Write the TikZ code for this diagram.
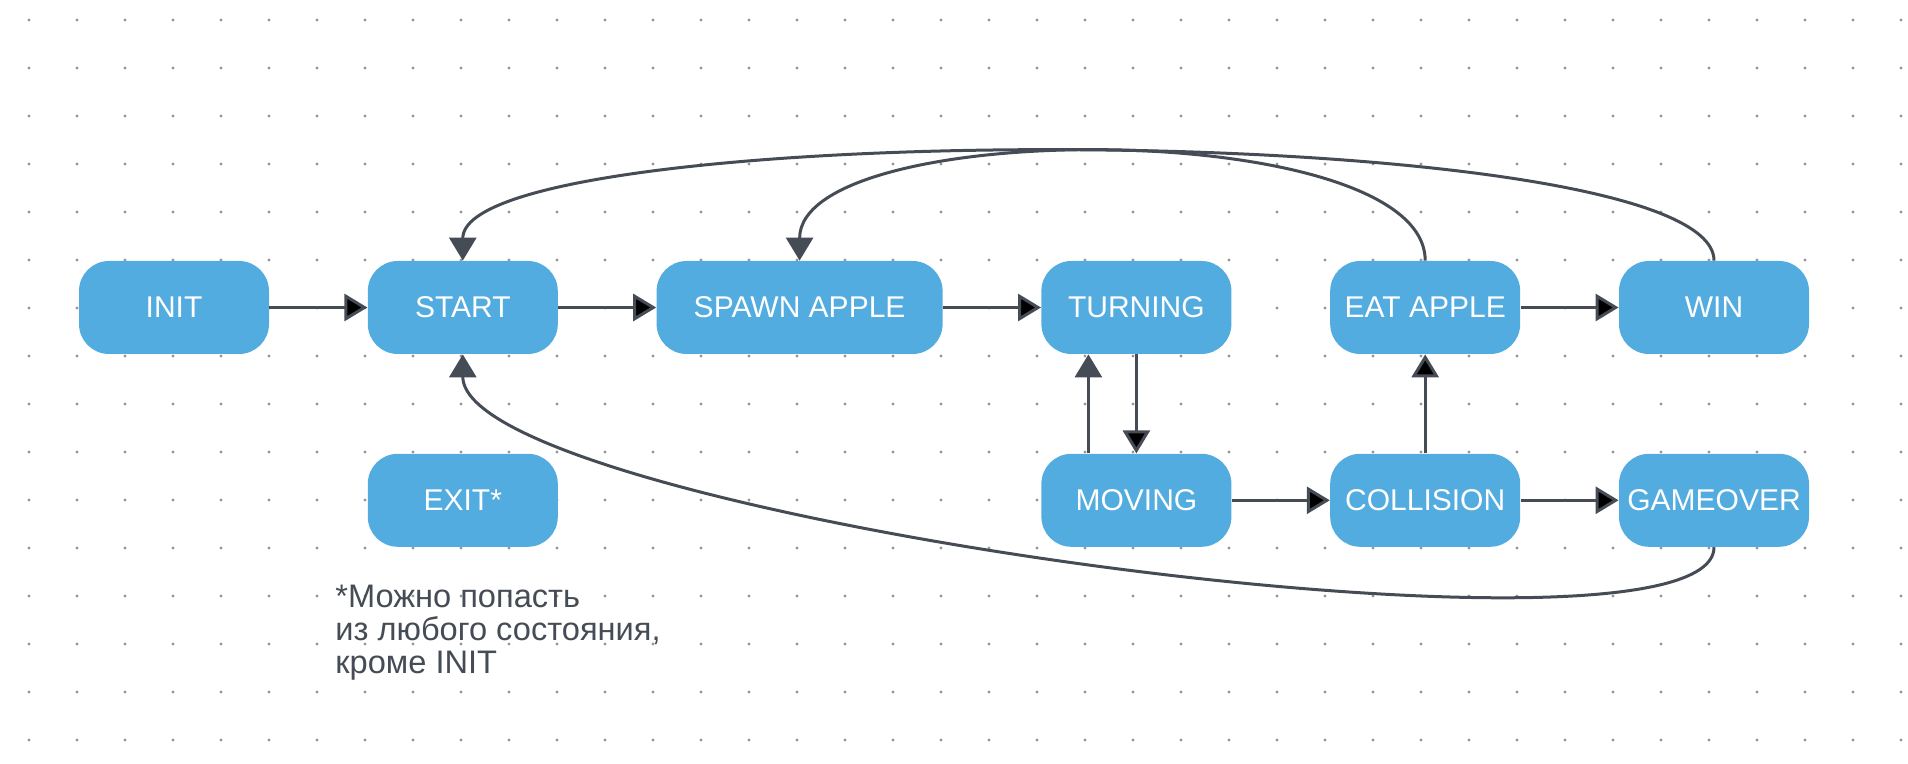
\documentclass[tikz,border=0pt]{standalone}
\usepackage{fontspec}
\setmainfont{Liberation Sans}
\usetikzlibrary{arrows.meta, positioning}

\definecolor{boxblue}{RGB}{82,172,223}
\definecolor{linegray}{RGB}{70,76,85}
\definecolor{dotgray}{RGB}{150,150,156}

\begin{document}
\begin{tikzpicture}[x=0.5pt, y=-0.5pt,
	node distance=49.5pt and 49pt,
	state/.style={fill=boxblue, text=white, rounded corners=15pt, minimum width=95pt, minimum height=46.5pt, inner sep=0pt, font=\fontsize{15pt}{18pt}\selectfont},
	link/.style={draw=linegray, line width=1.5pt, -{Triangle[length=11.5pt, width=13.5pt]}}
]

\useasboundingbox (0,0) rectangle (1908,764);

% dotted background
\foreach \i in {0,...,39}
	\foreach \j in {0,...,15}
		\fill [dotgray] (29+48*\i, 20+48*\j) circle (0.8pt);

\node [state] (1) at (174,307.5) {INIT};
\node [state, right=of 1] (2) {START};
\node [state, right=of 2, minimum width=143pt] (3) {SPAWN APPLE};
\node [state, right=of 3] (4) {TURNING};
\node [state, right=of 4] (5) {EAT APPLE};
\node [state, right=of 5] (6) {WIN};

\node [state, below=of 2] (7) {EXIT*};
\node [state, below=of 4] (8) {MOVING};
\node [state, below=of 5] (9) {COLLISION};
\node [state, below=of 6] (10) {GAMEOVER};

\node [anchor=north west, align=left, inner sep=0pt, text=linegray, font=\fontsize{16.3pt}{16.5pt}\selectfont] (11) at (335,585) {
	*Можно попасть \\
	из любого состояния, \\
	кроме INIT
};

\path [link] (1) edge (2)
	(2) edge (3)
	(3) edge (4)
	(5) edge (6)
	(8) edge (9)
	(9) edge (10)
	(4) edge (8)
	(9) edge (5);

\draw [link] ([xshift=-24pt]8.north) -- ([xshift=-24pt]4.south);

% loops back over the top
\draw [link] (6.north) .. controls +(0,-144) and +(0,-144) .. (2.north);
\draw [link] (5.north) .. controls +(0,-144) and +(0,-144) .. (3.north);

% gameover back to start
\draw [link] (10.south) .. controls +(0,137) and +(0,160) .. (2.south);

\end{tikzpicture}
\end{document}
